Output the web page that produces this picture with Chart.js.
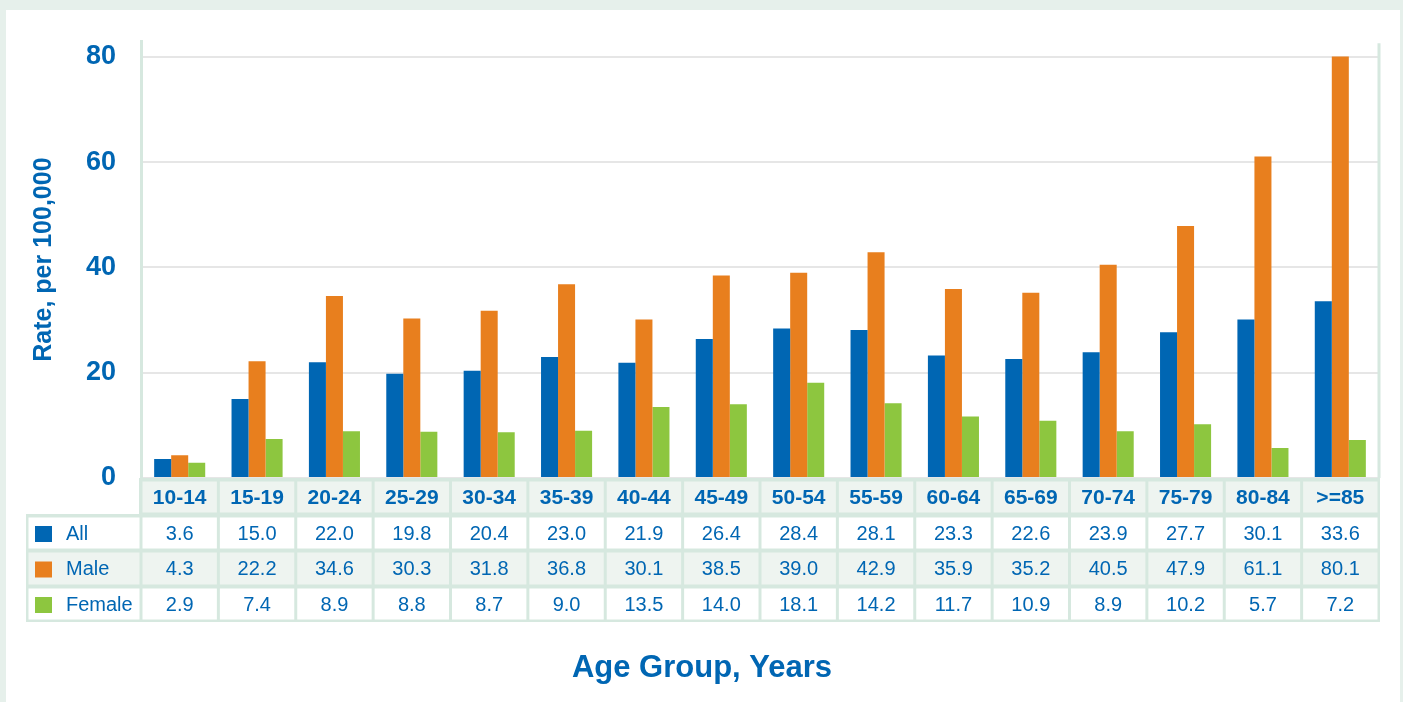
<!DOCTYPE html>
<html lang="en">
<head>
<meta charset="UTF-8">
<title>Rate per 100,000 by Age Group</title>
<style>
  html, body { margin: 0; padding: 0; background: #e6f0eb; }
  #wrap { width: 1403px; height: 702px; position: relative; }
</style>
</head>
<body>
<div id="wrap"><canvas id="chart" width="1403" height="702"></canvas></div>
<script src="https://cdn.jsdelivr.net/npm/chart.js"></script>
<script>
  const ageGroups = ['10-14', '15-19', '20-24', '25-29', '30-34', '35-39', '40-44', '45-49',
                     '50-54', '55-59', '60-64', '65-69', '70-74', '75-79', '80-84', '>=85'];
  const allRates    = [3.6, 15.0, 22.0, 19.8, 20.4, 23.0, 21.9, 26.4, 28.4, 28.1, 23.3, 22.6, 23.9, 27.7, 30.1, 33.6];
  const maleRates   = [4.3, 22.2, 34.6, 30.3, 31.8, 36.8, 30.1, 38.5, 39.0, 42.9, 35.9, 35.2, 40.5, 47.9, 61.1, 80.1];
  const femaleRates = [2.9, 7.4, 8.9, 8.8, 8.7, 9.0, 13.5, 14.0, 18.1, 14.2, 11.7, 10.9, 8.9, 10.2, 5.7, 7.2];
  const yTicks = [0, 20, 40, 60, 80];

  const BLUE = '#0066b3';
  const ORANGE = '#e87f1e';
  const GREEN = '#8dc63f';
  const LINE = '#d6e8df';
  const SHADE = '#eef4f0';
  const FONT = "'Liberation Sans Narrow', 'Arial Narrow', 'Liberation Sans', Arial, sans-serif";

  const series = [
    { label: 'All', data: allRates, color: BLUE },
    { label: 'Male', data: maleRates, color: ORANGE },
    { label: 'Female', data: femaleRates, color: GREEN }
  ];

  // white panel, data table under the bars, axis title
  const tablePlugin = {
    id: 'tablePlugin',
    beforeDraw(chart) {
      const ctx = chart.ctx;
      ctx.save();
      ctx.fillStyle = '#e6f0eb';
      ctx.fillRect(0, 0, chart.width, chart.height);
      ctx.fillStyle = '#ffffff';
      ctx.fillRect(6, 10, 1394, chart.height - 10);
      ctx.restore();
    },
    afterDraw(chart) {
      const ctx = chart.ctx;
      const x = chart.scales.x;
      const area = chart.chartArea;
      const step = x.getPixelForValue(1) - x.getPixelForValue(0);
      const left = area.left, right = area.right;
      const rows = [
        { top: 480, h: 34, bg: SHADE },
        { top: 516, h: 34, bg: '#ffffff' },
        { top: 551, h: 35, bg: SHADE },
        { top: 587, h: 34, bg: '#ffffff' }
      ];
      ctx.save();

      // right border of plot
      ctx.strokeStyle = LINE;
      ctx.lineWidth = 3;
      ctx.beginPath();
      ctx.moveTo(right, area.top + 2);
      ctx.lineTo(right, area.bottom);
      ctx.stroke();

      // table background frame
      ctx.fillStyle = LINE;
      ctx.fillRect(left - 2, 478, right - left + 3, 144);
      ctx.fillRect(26, 514, left - 24, 108);

      rows.forEach((r, ri) => {
        ctx.fillStyle = r.bg;
        for (let i = 0; i < ageGroups.length; i++) {
          const cx = x.getPixelForValue(i);
          ctx.fillRect(cx - step / 2 + 1.5, r.top + 1.5, step - 3, r.h - 3);
        }
        if (ri > 0) ctx.fillRect(28.5, r.top + 1.5, left - 30, r.h - 3);
      });

      ctx.textAlign = 'center';
      ctx.textBaseline = 'middle';
      ctx.fillStyle = BLUE;
      ctx.font = 'bold 21px ' + FONT;
      ageGroups.forEach((g, i) => {
        ctx.fillText(g, x.getPixelForValue(i), rows[0].top + rows[0].h / 2 + 1);
      });

      ctx.font = '20px ' + FONT;
      series.forEach((s, si) => {
        const r = rows[si + 1];
        const cy = r.top + r.h / 2 + 1;
        s.data.forEach((v, i) => {
          ctx.fillStyle = BLUE;
          ctx.fillText(v.toFixed(1), x.getPixelForValue(i), cy);
        });
        ctx.fillStyle = s.color;
        ctx.fillRect(35, cy - 8, 17, 16);
        ctx.fillStyle = BLUE;
        ctx.textAlign = 'left';
        ctx.fillText(s.label, 66, cy);
        ctx.textAlign = 'center';
      });

      ctx.font = 'bold 31px ' + FONT;
      ctx.fillText('Age Group, Years', 702, 668);
      ctx.restore();
    }
  };

  new Chart(document.getElementById('chart'), {
    type: 'bar',
    data: {
      labels: ageGroups,
      datasets: series.map(s => ({
        label: s.label,
        data: s.data,
        backgroundColor: s.color,
        borderWidth: 0,
        categoryPercentage: 0.66,
        barPercentage: 1.0
      }))
    },
    options: {
      responsive: false,
      animation: false,
      layout: { padding: { top: 31, right: 24, bottom: 224, left: 0 } },
      plugins: { legend: { display: false }, tooltip: { enabled: false } },
      scales: {
        x: {
          display: false,
          grid: { display: false }
        },
        y: {
          min: 0,
          max: 83,
          afterBuildTicks(scale) {
            scale.ticks = yTicks.map(v => ({ value: v }));
          },
          afterFit(scale) { scale.width = 141; },
          grid: { color: '#e6e6e6', lineWidth: 2, drawTicks: false },
          border: { color: LINE, width: 3 },
          ticks: {
            color: BLUE,
            padding: 25,
            font: { family: FONT, size: 27, weight: 'bold' }
          },
          title: {
            display: true,
            text: 'Rate, per 100,000',
            color: BLUE,
            padding: { top: 29, bottom: 8 },
            font: { family: FONT, size: 25, weight: 'bold' }
          }
        }
      }
    },
    plugins: [tablePlugin]
  });
</script>
</body>
</html>
